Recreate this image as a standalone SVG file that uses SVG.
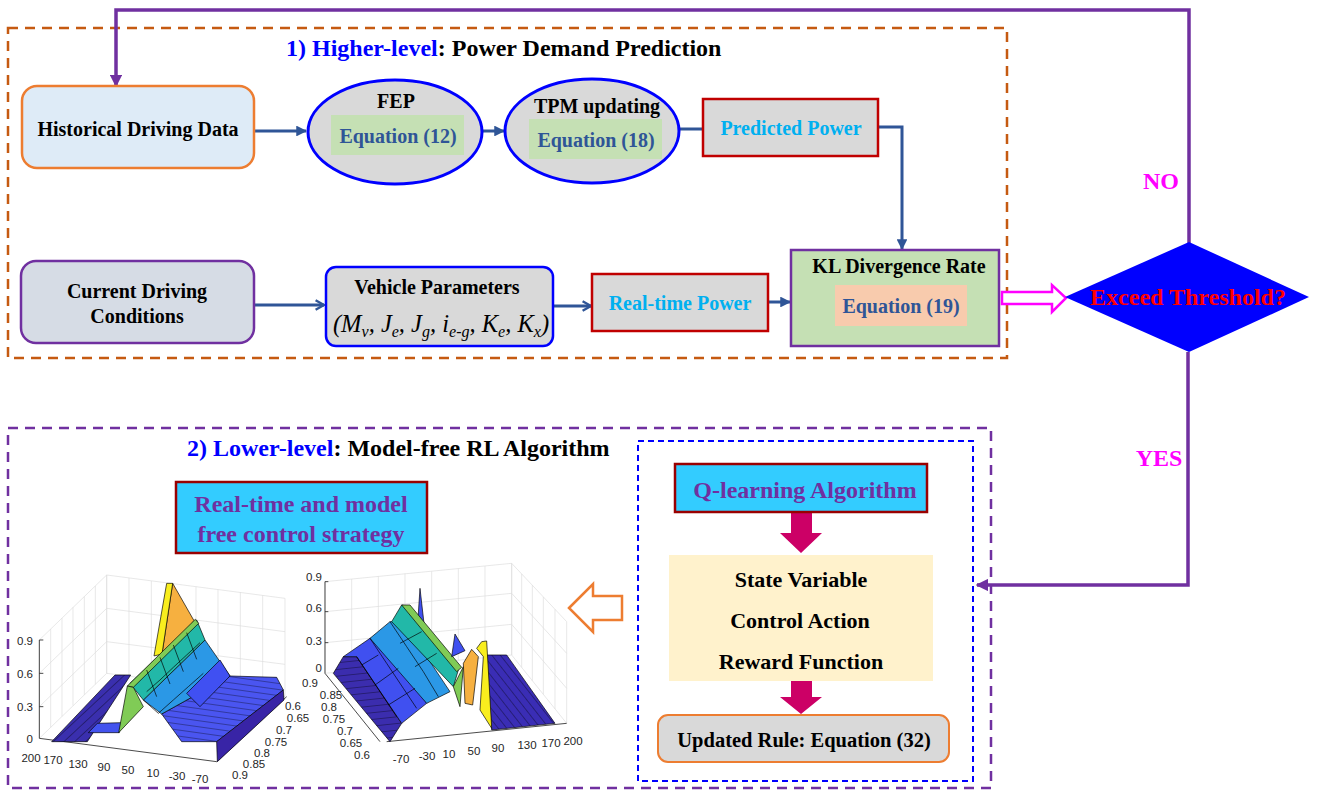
<svg xmlns="http://www.w3.org/2000/svg" width="1321" height="791" viewBox="0 0 1321 791">
<style>
.b{font-family:"Liberation Serif","Times New Roman",serif;font-weight:bold;}
.lbl{font-size:20px;fill:#000;text-anchor:middle;}
.eq{font-size:20px;fill:#2F5597;text-anchor:middle;}
.cy{font-size:20px;fill:#00B0F0;text-anchor:middle;}
.pu{font-size:24px;fill:#7030A0;text-anchor:middle;}
.tk{font-family:"Liberation Sans",Arial,sans-serif;font-size:11.5px;fill:#262626;}
.tkm{text-anchor:middle;}
.tke{text-anchor:end;}
.bl{stroke:#2F5597;stroke-width:3;fill:none;}
.pl{stroke:#7030A0;stroke-width:3.5;fill:none;}
.grid{stroke:#DDDDDD;stroke-width:2;fill:none;}
.ax{stroke:#262626;stroke-width:2.5;fill:none;}
.sf{stroke:#000;stroke-width:2;stroke-linejoin:round;}
</style>
<defs>
<marker id="aBlue" viewBox="0 0 10 10" refX="9" refY="5" markerWidth="3.6" markerHeight="3.6" orient="auto" markerUnits="strokeWidth"><path d="M0,0 L10,5 L0,10 z" fill="#2F5597"/></marker>
<marker id="aChev" viewBox="0 0 10 10" refX="9" refY="5" markerWidth="4" markerHeight="4" orient="auto" markerUnits="strokeWidth"><path d="M2,1 L9,5 L2,9" fill="none" stroke="#2F5597" stroke-width="2"/></marker>
<marker id="aPur" viewBox="0 0 10 10" refX="9" refY="5" markerWidth="3.6" markerHeight="3.6" orient="auto" markerUnits="strokeWidth"><path d="M0,0 L10,5 L0,10 z" fill="#7030A0"/></marker>
<pattern id="hA" width="22" height="22" patternUnits="userSpaceOnUse" patternTransform="rotate(47)"><line x1="0" y1="0" x2="0" y2="22" stroke="#000" stroke-width="2"/></pattern>
<pattern id="hB" width="18" height="18" patternUnits="userSpaceOnUse" patternTransform="rotate(-82)"><line x1="0" y1="0" x2="0" y2="18" stroke="#000" stroke-width="2"/></pattern>
<pattern id="hC" width="20" height="20" patternUnits="userSpaceOnUse" patternTransform="rotate(-38)"><line x1="0" y1="0" x2="0" y2="20" stroke="#000" stroke-width="2"/></pattern>
<pattern id="hD" width="20" height="20" patternUnits="userSpaceOnUse" patternTransform="rotate(84)"><line x1="0" y1="0" x2="0" y2="20" stroke="#000" stroke-width="2"/></pattern>
</defs>

<g id="frames">
<rect x="8" y="28" width="999" height="330" fill="none" stroke="#C55A11" stroke-width="2.5" stroke-dasharray="10 7"/>
<rect x="8" y="428" width="983" height="360" fill="none" stroke="#7030A0" stroke-width="2.5" stroke-dasharray="10 7"/>
<rect x="638" y="441" width="335" height="340" fill="none" stroke="#0000FF" stroke-width="2" stroke-dasharray="6 4"/>
</g>

<g id="titles">
<text class="b" x="286" y="56" font-size="24"><tspan fill="#0000FF">1) Higher-level</tspan><tspan fill="#000">: Power Demand Prediction</tspan></text>
<text class="b" x="187" y="456" font-size="24"><tspan fill="#0000FF">2) Lower-level</tspan><tspan fill="#000">: Model-free RL Algorithm</tspan></text>
</g>

<g id="connectors">
<path class="pl" d="M1189,243 V10 H116 V86" marker-end="url(#aPur)"/>
<path class="pl" d="M1188,352 V585 H977" marker-end="url(#aPur)"/>
<path class="bl" d="M254,131 H306" marker-end="url(#aBlue)"/>
<path class="bl" d="M483,131 H504" marker-end="url(#aBlue)"/>
<path class="bl" d="M680,129 H703"/>
<path class="bl" d="M878,127 H902 V249" marker-end="url(#aBlue)"/>
<path class="bl" d="M254,305 H324" marker-end="url(#aChev)"/>
<path class="bl" d="M553,306 H591" marker-end="url(#aChev)"/>
<path class="bl" d="M768,302 H790" marker-end="url(#aBlue)"/>
<path d="M1002,292 H1052 V285 L1066,298 L1052,312 V304 H1002 Z" fill="#fff" stroke="#FF00FF" stroke-width="2.5"/>
<polygon points="791,512 812,512 812,533 822,533 801,553 780,533 791,533" fill="#CC0066"/>
<polygon points="791,681 812,681 812,697 822,697 801,714 780,697 791,697" fill="#CC0066"/>
<path d="M569,608 L593,584 V596 H622 V620 H593 V632 Z" fill="#fff" stroke="#ED7D31" stroke-width="2.5"/>
<text class="b" x="1161" y="189" font-size="24" fill="#FF00FF" text-anchor="middle">NO</text>
<text class="b" x="1159" y="466" font-size="24" fill="#FF00FF" text-anchor="middle">YES</text>
</g>

<g id="node-historical">
<rect x="22" y="86" width="232" height="82" rx="15" fill="#DEEBF7" stroke="#ED7D31" stroke-width="2.5"/>
<text class="b lbl" x="138" y="136">Historical Driving Data</text>
</g>
<g id="node-fep">
<ellipse cx="395" cy="132" rx="87" ry="52" fill="#D9D9D9" stroke="#0000FF" stroke-width="3"/>
<rect x="331" y="115" width="133" height="40" fill="#C5E0B4"/>
<text class="b lbl" x="396" y="108">FEP</text>
<text class="b eq" x="398" y="143">Equation (12)</text>
</g>
<g id="node-tpm">
<ellipse cx="592" cy="131" rx="87" ry="52" fill="#D9D9D9" stroke="#0000FF" stroke-width="3"/>
<rect x="529" y="119" width="133" height="40" fill="#C5E0B4"/>
<text class="b lbl" x="597" y="113">TPM updating</text>
<text class="b eq" x="596" y="147">Equation (18)</text>
</g>
<g id="node-predicted">
<rect x="703" y="99" width="175" height="57" fill="#D9D9D9" stroke="#C00000" stroke-width="2.5"/>
<text class="b cy" x="791" y="135">Predicted Power</text>
</g>
<g id="node-current">
<rect x="21" y="261" width="233" height="82" rx="15" fill="#D6DCE5" stroke="#7030A0" stroke-width="2.5"/>
<text class="b lbl" x="137" y="298">Current Driving</text>
<text class="b lbl" x="137" y="323">Conditions</text>
</g>
<g id="node-vehicle">
<rect x="326" y="267" width="227" height="79" rx="10" fill="#D9D9D9" stroke="#0000FF" stroke-width="2.5"/>
<text class="b lbl" x="437" y="294">Vehicle Parameters</text>
<text x="441" y="332" font-family="Liberation Serif,Times New Roman,serif" font-style="italic" font-size="24.5" fill="#000" text-anchor="middle">(M<tspan font-size="16" dy="5">v</tspan><tspan dy="-5">, J</tspan><tspan font-size="16" dy="5">e</tspan><tspan dy="-5">, J</tspan><tspan font-size="16" dy="5">g</tspan><tspan dy="-5">, i</tspan><tspan font-size="16" dy="5">e-g</tspan><tspan dy="-5">, K</tspan><tspan font-size="16" dy="5">e</tspan><tspan dy="-5">, K</tspan><tspan font-size="16" dy="5">x</tspan><tspan dy="-5">)</tspan></text>
</g>
<g id="node-realtime">
<rect x="592" y="274" width="176" height="57" fill="#D9D9D9" stroke="#C00000" stroke-width="2.5"/>
<text class="b cy" x="680" y="310">Real-time Power</text>
</g>
<g id="node-kl">
<rect x="791" y="250" width="208" height="96" fill="#C5E0B4" stroke="#7030A0" stroke-width="2.5"/>
<text class="b lbl" x="899" y="273">KL Divergence Rate</text>
<rect x="835" y="285" width="132" height="41" fill="#F8CBAD"/>
<text class="b eq" x="901" y="313">Equation (19)</text>
</g>
<g id="node-threshold">
<polygon points="1065,297 1189,242 1309,297 1189,352" fill="#0000FF"/>
<text class="b" x="1188" y="305" font-size="24" fill="#FF0000" text-anchor="middle">Exceed Threshold?</text>
</g>
<g id="node-qlearning">
<rect x="675" y="464" width="252" height="48" fill="#33CCFF" stroke="#990000" stroke-width="2.5"/>
<text class="b pu" x="805" y="498">Q-learning Algorithm</text>
</g>
<g id="node-state">
<rect x="669" y="555" width="264" height="126" fill="#FFF2CC"/>
<text class="b" x="801" y="587" font-size="22" text-anchor="middle">State Variable</text>
<text class="b" x="800" y="628" font-size="22" text-anchor="middle">Control Action</text>
<text class="b" x="801" y="669" font-size="22" text-anchor="middle">Reward Function</text>
</g>
<g id="node-updated">
<rect x="658" y="715" width="291" height="47" rx="10" fill="#D9D9D9" stroke="#ED7D31" stroke-width="2"/>
<text class="b" x="804" y="747" font-size="20.5" text-anchor="middle">Updated Rule: Equation (32)</text>
</g>
<g id="node-strategy">
<rect x="176" y="482" width="251" height="71" fill="#33CCFF" stroke="#990000" stroke-width="2.5"/>
<text class="b pu" x="301" y="512">Real-time and model</text>
<text class="b pu" x="301" y="542">free control strategy</text>
</g>

<g id="plot-left">
<g transform="translate(0,560) scale(0.33333)">
<polygon class="grid" points="118,240 320,45 320,340 118,535"/>
<polyline class="grid" points="118,340 320,145 855,215"/>
<polyline class="grid" points="118,440 320,245 855,313"/>
<polygon class="grid" points="320,45 855,115 855,410 320,340"/>
<line class="grid" x1="152" y1="207" x2="152" y2="502"/>
<line class="grid" x1="186" y1="174" x2="186" y2="469"/>
<line class="grid" x1="219" y1="142" x2="219" y2="437"/>
<line class="grid" x1="253" y1="110" x2="253" y2="405"/>
<line class="grid" x1="286" y1="78" x2="286" y2="373"/>
<line class="grid" x1="387" y1="54" x2="387" y2="349"/>
<line class="grid" x1="454" y1="63" x2="454" y2="358"/>
<line class="grid" x1="521" y1="71" x2="521" y2="366"/>
<line class="grid" x1="588" y1="80" x2="588" y2="375"/>
<line class="grid" x1="654" y1="89" x2="654" y2="384"/>
<line class="grid" x1="721" y1="97" x2="721" y2="392"/>
<line class="grid" x1="788" y1="106" x2="788" y2="401"/>
<line class="ax" x1="118" y1="240" x2="118" y2="535"/>
<line class="ax" x1="118" y1="240" x2="130" y2="240"/>
<line class="ax" x1="118" y1="340" x2="130" y2="340"/>
<line class="ax" x1="118" y1="440" x2="130" y2="440"/>
<line class="ax" x1="118" y1="535" x2="650" y2="605"/>
<line class="ax" x1="650" y1="605" x2="860" y2="410"/>
<polygon class="sf" points="155,545 262,545 392,345 345,345" fill="#3A2FAE"/>
<polygon points="155,545 262,545 392,345 345,345" fill="url(#hA)"/>
<polygon class="sf" points="265,518 292,490 365,488 358,518" fill="#4353EE"/>
<polygon class="sf" points="485,462 690,348 830,352 850,390 650,545 545,545" fill="#4A55F0"/>
<polygon points="485,462 690,348 830,352 850,390 650,545 545,545" fill="url(#hB)"/>
<polygon class="sf" points="650,545 850,390 852,420 652,605" fill="#3824A6"/>
<polygon class="sf" points="430,420 615,240 690,348 485,462" fill="#2B98E6"/>
<polygon class="sf" points="560,400 660,300 690,348 600,440" fill="#4050F2"/>
<polygon class="sf" points="390,370 590,180 615,240 430,420" fill="#22B8A8"/>
<polygon class="sf" points="518,70 582,182 520,255 486,282" fill="#F6B040"/>
<polygon class="sf" points="462,288 500,70 518,70 486,282" fill="#F9EE1E"/>
<polygon class="sf" points="382,378 586,178 596,190 400,382" fill="#80CB56"/>
<polygon class="sf" points="356,518 382,378 400,382 430,440" fill="#80CB56"/>
<polyline points="430,420 475,460 520,420 565,380 610,340" fill="none" stroke="#000" stroke-width="2"/>
<polyline points="440,395 480,360 520,322 560,285 600,248" fill="none" stroke="#000" stroke-width="2"/>
<line x1="440" y1="330" x2="470" y2="410" stroke="#000" stroke-width="2"/>
<line x1="480" y1="292" x2="510" y2="372" stroke="#000" stroke-width="2"/>
<line x1="520" y1="255" x2="550" y2="335" stroke="#000" stroke-width="2"/>
<line x1="560" y1="218" x2="590" y2="298" stroke="#000" stroke-width="2"/>
</g>
<text class="tk tke" x="33" y="645">0.9</text>
<text class="tk tke" x="33" y="678">0.6</text>
<text class="tk tke" x="33" y="711">0.3</text>
<text class="tk tke" x="33" y="743">0</text>
<text class="tk tkm" x="31" y="762">200</text>
<text class="tk tkm" x="53" y="764">170</text>
<text class="tk tkm" x="78" y="768">130</text>
<text class="tk tkm" x="104" y="771">90</text>
<text class="tk tkm" x="128" y="774">50</text>
<text class="tk tkm" x="153" y="777">10</text>
<text class="tk tkm" x="177" y="780">-30</text>
<text class="tk tkm" x="200" y="783">-70</text>
<text class="tk tkm" x="240" y="779">0.9</text>
<text class="tk tkm" x="254" y="768">0.85</text>
<text class="tk tkm" x="262" y="757">0.8</text>
<text class="tk tkm" x="276" y="746">0.75</text>
<text class="tk tkm" x="284" y="734">0.7</text>
<text class="tk tkm" x="298" y="722">0.65</text>
<text class="tk tkm" x="293" y="710">0.6</text>
</g>

<g id="plot-right">
<g transform="translate(290,560) scale(0.33333)">
<polygon class="grid" points="105,65 665,10 665,285 105,340"/>
<polygon class="grid" points="665,10 830,185 830,490 665,285"/>
<line class="grid" x1="105" y1="155" x2="665" y2="100"/>
<line class="grid" x1="105" y1="248" x2="665" y2="193"/>
<line class="grid" x1="665" y1="100" x2="830" y2="280"/>
<line class="grid" x1="665" y1="193" x2="830" y2="385"/>
<line class="grid" x1="185" y1="57" x2="185" y2="332"/>
<line class="grid" x1="265" y1="49" x2="265" y2="324"/>
<line class="grid" x1="345" y1="41" x2="345" y2="316"/>
<line class="grid" x1="425" y1="34" x2="425" y2="309"/>
<line class="grid" x1="505" y1="26" x2="505" y2="301"/>
<line class="grid" x1="585" y1="18" x2="585" y2="293"/>
<line class="grid" x1="695" y1="42" x2="695" y2="322"/>
<line class="grid" x1="727" y1="76" x2="727" y2="362"/>
<line class="grid" x1="760" y1="111" x2="760" y2="403"/>
<line class="grid" x1="795" y1="148" x2="795" y2="447"/>
<line class="ax" x1="105" y1="65" x2="105" y2="340"/>
<line class="ax" x1="105" y1="65" x2="115" y2="65"/>
<line class="ax" x1="105" y1="155" x2="115" y2="155"/>
<line class="ax" x1="105" y1="248" x2="115" y2="248"/>
<line class="ax" x1="105" y1="340" x2="270" y2="545"/>
<line class="ax" x1="290" y1="545" x2="830" y2="490"/>
<polygon class="sf" points="590,285 650,285 795,490 605,510" fill="#3A2DB5"/>
<polygon points="590,285 650,285 795,490 605,510" fill="url(#hC)"/>
<polygon class="sf" points="130,340 160,290 200,290 335,490 300,545" fill="#3B2DAE"/>
<polygon points="130,340 160,290 200,290 335,490 300,545" fill="url(#hD)"/>
<polygon class="sf" points="200,290 160,290 240,235 290,240 410,430 335,490" fill="#4050F0"/>
<polygon class="sf" points="240,235 300,185 340,185 480,395 410,430" fill="#2B98E6"/>
<polygon class="sf" points="305,185 335,135 360,140 505,330 490,380" fill="#22B8A8"/>
<polygon class="sf" points="383,190 390,85 402,190" fill="#4050F0"/>
<polygon class="sf" points="335,135 360,135 515,322 500,335" fill="#80CB56"/>
<polygon class="sf" points="490,380 520,320 510,440" fill="#80CB56"/>
<polygon class="sf" points="485,290 495,222 525,272" fill="#4050F0"/>
<polygon class="sf" points="520,310 545,268 565,290 548,435 525,430" fill="#F6B040"/>
<polygon class="sf" points="560,265 575,245 590,243 605,505 570,450 580,290" fill="#F9EE1E"/>
<polyline points="200,290 240,350 280,410 320,470" fill="none" stroke="#000" stroke-width="2"/>
<polyline points="240,235 290,310 340,385 380,445" fill="none" stroke="#000" stroke-width="2"/>
<polyline points="300,185 350,260 400,335 445,410" fill="none" stroke="#000" stroke-width="2"/>
<line x1="215" y1="315" x2="265" y2="285" stroke="#000" stroke-width="2"/>
<line x1="255" y1="375" x2="325" y2="325" stroke="#000" stroke-width="2"/>
<line x1="295" y1="435" x2="375" y2="385" stroke="#000" stroke-width="2"/>
<line x1="330" y1="250" x2="395" y2="215" stroke="#000" stroke-width="2"/>
<line x1="375" y1="320" x2="440" y2="280" stroke="#000" stroke-width="2"/>
</g>
<text class="tk tke" x="322" y="581">0.9</text>
<text class="tk tke" x="322" y="612">0.6</text>
<text class="tk tke" x="322" y="645">0.3</text>
<text class="tk tke" x="322" y="672">0</text>
<text class="tk tkm" x="310" y="687">0.9</text>
<text class="tk tkm" x="331" y="699">0.85</text>
<text class="tk tkm" x="329" y="711">0.8</text>
<text class="tk tkm" x="334" y="723">0.75</text>
<text class="tk tkm" x="345" y="735">0.7</text>
<text class="tk tkm" x="351" y="747">0.65</text>
<text class="tk tkm" x="362" y="759">0.6</text>
<text class="tk tkm" x="401" y="763">-70</text>
<text class="tk tkm" x="427" y="760">-30</text>
<text class="tk tkm" x="449" y="758">10</text>
<text class="tk tkm" x="474" y="755">50</text>
<text class="tk tkm" x="498" y="752">90</text>
<text class="tk tkm" x="527" y="749">130</text>
<text class="tk tkm" x="551" y="747">170</text>
<text class="tk tkm" x="573" y="745">200</text>
</g>
</svg>
